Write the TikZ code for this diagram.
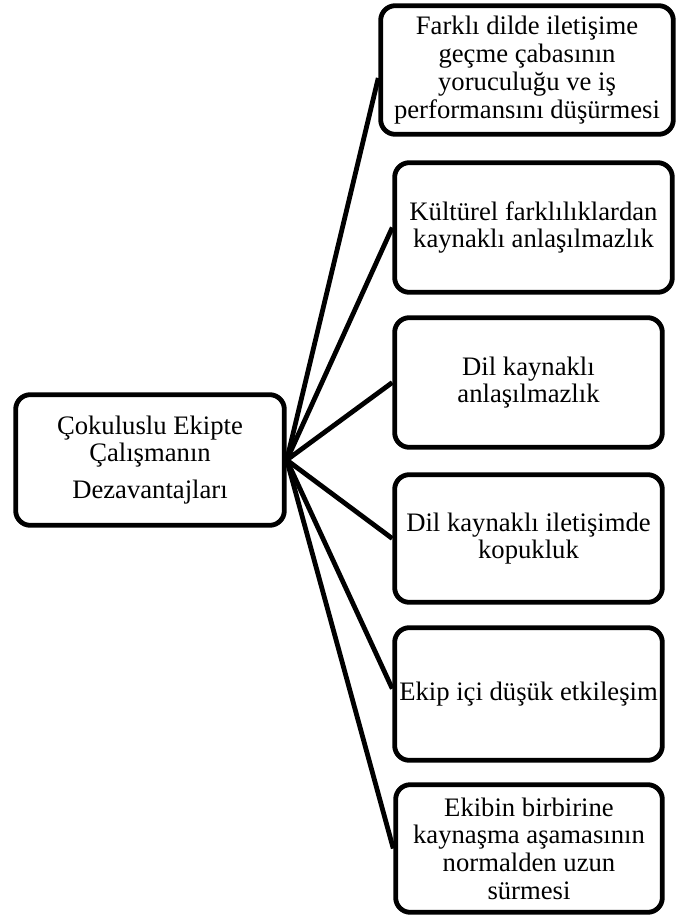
\documentclass[tikz,border=0pt]{standalone}
\usepackage{fontspec}
\setmainfont{Liberation Serif}
\begin{document}
\begin{tikzpicture}[x=0.75pt,y=-0.75pt,
  rbox/.style={draw=black, line width=3.6pt, rounded corners=11pt, fill=white,
    align=center, inner sep=0pt, font=\fontsize{20pt}{20.8pt}\selectfont},
  conn/.style={draw=black, line width=3.6pt}]
\useasboundingbox (0,0) rectangle (678,921);
\node[rbox, minimum width=201.5pt, minimum height=98pt] (L) at (150,460)
  {Çokuluslu Ekipte\\ Çalışmanın\\[7pt] Dezavantajları};
\node[rbox, minimum width=219.5pt, minimum height=96.5pt] (b1) at (527,70)
  {Farklı dilde iletişime\\ geçme çabasının\\ yoruculuğu ve iş\\ performansını düşürmesi};
\node[rbox, minimum width=208.25pt, minimum height=97.25pt] (b2) at (533.5,227.5)
  {Kültürel farklılıklardan\\ kaynaklı anlaşılmazlık};
\node[rbox, minimum width=200.75pt, minimum height=97.25pt] (b3) at (528.5,382.5)
  {Dil kaynaklı\\ anlaşılmazlık};
\node[rbox, minimum width=200.75pt, minimum height=95.75pt] (b4) at (528.5,538.5)
  {Dil kaynaklı iletişimde\\ kopukluk};
\node[rbox, minimum width=200.75pt, minimum height=99.5pt] (b5) at (528.5,694)
  {Ekip içi düşük etkileşim};
\node[rbox, minimum width=200pt, minimum height=95.75pt] (b6) at (529,848.5)
  {Ekibin birbirine\\ kaynaşma aşamasının\\ normalden uzun\\ sürmesi};
\draw[conn] (L.east) -- ([yshift=-6pt]b1.west);
\draw[conn] (L.east) -- (b2.west);
\draw[conn] (L.east) -- (b3.west);
\draw[conn] (L.east) -- (b4.west);
\draw[conn] (L.east) -- ([yshift=4pt]b5.west);
\draw[conn] (L.east) -- (b6.west);
\end{tikzpicture}
\end{document}
